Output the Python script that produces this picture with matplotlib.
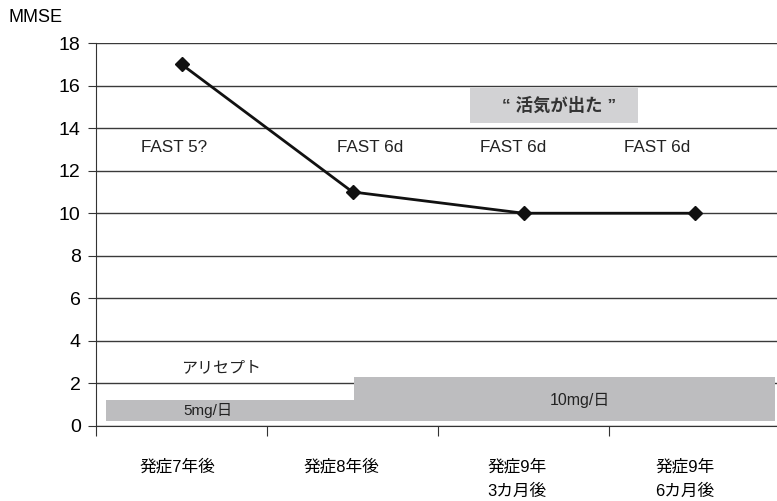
import matplotlib
matplotlib.use("Agg")
import matplotlib.pyplot as plt
from matplotlib.patches import Rectangle

plt.rcParams['font.family'] = ['Liberation Sans', 'Noto Sans CJK JP', 'DejaVu Sans']

# data
periods = ['発症7年後', '発症8年後', '発症9年\n3カ月後', '発症9年\n6カ月後']
mmse = [17, 11, 10, 10]
fast_labels = ['FAST 5?', 'FAST 6d', 'FAST 6d', 'FAST 6d']
dose_labels = ['5mg/日', '10mg/日']
dose_start = [0.06, 1.51]
dose_end = [1.51, 3.97]
dose_top = [1.22, 2.3]
dose_bottom = 0.23

fig = plt.figure(figsize=(7.77, 5.01), dpi=100)
ax = fig.add_axes([96 / 777, 1 - 426 / 501, 684 / 777, 383 / 501])

x = [i + 0.5 for i in range(len(mmse))]

# donepezil dose bars
for s, e, t in zip(dose_start, dose_end, dose_top):
    ax.add_patch(Rectangle((s, dose_bottom), e - s, t - dose_bottom,
                           facecolor='#bdbdbf', edgecolor='none', zorder=1))
ax.text(0.655, 0.72, dose_labels[0], ha='center', va='center', fontsize=11, color='#222222')
ax.text(2.83, 1.2, dose_labels[1], ha='center', va='center', fontsize=11.5, color='#222222')
ax.text(0.73, 2.73, 'アリセプト', ha='center', va='center', fontsize=11.5, color='#222222')

# MMSE line
ax.plot(x, mmse, color='#111111', lw=2, marker='D', markersize=7, zorder=3)

# FAST stages
fast_x = [0.456, 1.602, 2.439, 3.281]
for fx, lab in zip(fast_x, fast_labels):
    ax.text(fx, 13.11, lab, ha='center', va='center', fontsize=12.3, color='#222222')

# annotation box
ax.add_patch(Rectangle((2.19, 14.24), 0.98, 1.64, facecolor='#d2d2d4', edgecolor='none', zorder=1))
ax.text(2.71, 15.08, '\u201c 活気が出た \u201d', ha='center', va='center', fontsize=12.5,
        fontweight='bold', color='#333333')

ax.set_xlim(0, 4)
ax.set_ylim(0, 18)
ax.set_yticks(range(0, 19, 2))
ax.yaxis.grid(True, color='#3a3a3a', lw=1)
ax.set_axisbelow(True)
for sp in ['top', 'right']:
    ax.spines[sp].set_visible(False)
ax.spines['left'].set_color('#333333')
ax.spines['bottom'].set_color('#333333')

ax.set_xticks([0, 1, 2, 3, 4])
ax.set_xticklabels([])
label_x = [0.474, 1.433, 2.462, 3.444]
ax.set_xticks(label_x, minor=True)
ax.set_xticklabels(periods, minor=True, fontsize=12, linespacing=1.75)
ax.tick_params(axis='x', which='minor', length=0, pad=24)
ax.tick_params(axis='x', which='major', length=7, color='#333333')
ax.tick_params(axis='y', length=6, labelsize=14, color='#333333', pad=5)

fig.text(8 / 777, 1 - 18 / 501, 'MMSE', ha='left', va='center', fontsize=13)

fig.savefig('out.png', dpi=100)
